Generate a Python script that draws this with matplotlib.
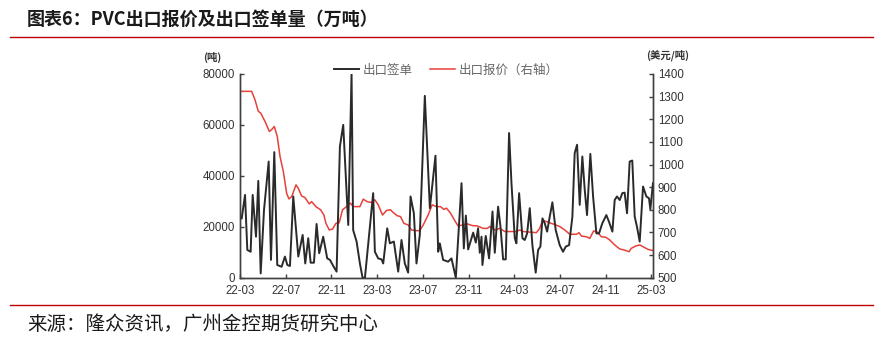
import matplotlib
matplotlib.use("Agg")
import matplotlib.pyplot as plt
from matplotlib.lines import Line2D

plt.rcParams["font.family"] = ["Noto Sans CJK SC", "DejaVu Sans"]

# time axis: months since 2022-03 (weekly data)
sign_t = [
    0.15, 0.44, 0.64, 0.93, 1.11, 1.40, 1.60, 1.81, 2.10, 2.51, 2.71, 3.00,
    3.26, 3.64, 3.93, 4.14, 4.37, 4.66, 5.10, 5.48, 5.71, 5.97, 6.18, 6.47,
    6.70, 6.93, 7.28, 7.63, 7.87, 8.16, 8.45, 8.74, 9.03, 9.47, 9.76, 9.90,
    10.20, 10.49, 10.72, 10.93, 11.65, 11.80, 12.09, 12.38, 12.53, 12.88,
    13.11, 13.46, 13.84, 14.13, 14.42, 14.71, 14.92, 15.21, 15.44, 15.73,
    16.17, 16.61, 17.10, 17.34, 17.48, 17.77, 18.21, 18.50, 18.88, 19.38,
    19.58, 19.76, 19.96, 20.40, 20.63, 20.83, 20.98, 21.13, 21.21, 21.50,
    21.79, 22.09, 22.29, 22.58, 22.79, 23.02, 23.25, 23.54, 23.75, 24.04,
    24.18, 24.42, 24.71, 24.91, 25.12, 25.35, 25.58, 25.87, 26.08, 26.28,
    26.46, 26.66, 26.87, 27.10, 27.33, 27.62, 27.97, 28.26, 28.50, 28.79,
    29.08, 29.28, 29.49, 29.72, 29.95, 30.16, 30.36, 30.65, 30.89, 31.18,
    31.41, 31.70, 32.05, 32.28, 32.58, 32.78, 32.98, 33.22, 33.45, 33.65,
    33.86, 34.09, 34.32, 34.53, 34.73, 34.97, 35.26, 35.55, 35.78, 35.90,
    36.13,
]
sign_vol = [
    23300, 32500, 10900, 10200, 32500, 16100, 38000, 1700, 26600, 45600, 7000, 49300,
    5000, 4300, 8300, 5000, 4600, 31900, 8300, 16800, 5600, 15500, 5900, 5900,
    21100, 9600, 16100, 7600, 7000, 4600, 2400, 51500, 60000, 20700, 80000, 18700,
    14200, 5600, 0, 0, 33200, 10200, 7600, 7200, 5600, 19400,
    13500, 14200, 2400, 14800, 5600, 2000, 31900, 25300, 5600, 16800,
    71400, 27300, 47900, 10200, 13500, 7000, 6300, 7600, 0, 37100,
    11500, 24400, 11100, 17700, 13800, 19400, 9800, 16100, 5000, 16400,
    7600, 26000, 9800, 27900, 20000, 7200, 7200, 56800, 37100, 15500,
    13500, 33200, 15500, 14800, 17400, 27300, 12800, 2000, 10900, 12200,
    23300, 21400, 18100, 24000, 29600, 18700, 12800, 10200, 12200, 12800,
    24000, 48900, 52200, 28600, 47600, 34500, 24600, 48600, 31900, 17400,
    17400, 21400, 24600, 22000, 18100, 30500, 31900, 30500, 33200, 33400,
    25300, 45600, 46000, 24000, 20000, 14200, 35800, 31900, 31200, 26900,
    37100,
]

price_t = [
    0.15, 1.02, 1.31, 1.60, 1.81, 2.19, 2.57, 2.77, 3.00, 3.26, 3.50, 3.79,
    4.08, 4.28, 4.52, 4.90, 5.10, 5.39, 5.68, 6.06, 6.27, 6.64, 7.05, 7.34,
    7.52, 7.81, 8.10, 8.39, 8.68, 8.97, 9.32, 9.67, 9.90, 10.49, 10.78, 11.13,
    11.51, 11.80, 12.09, 12.47, 12.82, 13.17, 13.40, 13.75, 14.04, 14.34,
    14.71, 15.00, 15.44, 15.73, 16.03, 16.46, 16.81, 17.19, 17.54, 17.83,
    18.07, 18.42, 18.79, 19.08, 19.52, 19.87, 20.34, 20.75, 21.27, 21.65,
    21.85, 22.29, 22.73, 23.16, 24.18, 24.48, 24.77, 25.93, 26.22, 26.46,
    26.81, 27.24, 27.62, 27.97, 28.41, 28.85, 29.43, 29.66, 29.87, 30.30,
    30.60, 30.94, 31.32, 31.61, 31.99, 32.34, 32.78, 33.22, 33.65, 34.03,
    34.24, 34.62, 34.97, 35.26, 35.70, 36.13,
]
price = [
    1323, 1323, 1286, 1235, 1227, 1190, 1146, 1154, 1168, 1124, 1036, 969,
    873, 848, 858, 910, 895, 861, 854, 826, 836, 814, 800, 777,
    740, 711, 715, 740, 743, 800, 814, 829, 814, 814, 847, 836,
    832, 844, 822, 777, 797, 800, 788, 774, 770, 740,
    733, 711, 708, 708, 733, 777, 822, 814, 814, 802,
    807, 785, 752, 729, 733, 738, 730, 729, 718, 718,
    726, 711, 718, 704, 704, 711, 704, 699, 718, 752,
    748, 740, 733, 726, 711, 692, 692, 699, 684, 681,
    674, 707, 699, 681, 679, 667, 645, 627, 622, 615,
    630, 640, 645, 637, 625, 620,
]

tick_pos = [0, 4, 8, 12, 16, 20, 24, 28, 32, 36]
tick_labels = ["22-03", "22-07", "22-11", "23-03", "23-07", "23-11",
               "24-03", "24-07", "24-11", "25-03"]

fig = plt.figure(figsize=(8.83, 3.52), dpi=100)
ax = fig.add_axes([0.2718, 0.211, 0.4677, 0.579])
ax2 = ax.twinx()

ax.plot(sign_t, sign_vol, color="#2a2a2a", lw=1.4, zorder=3)
ax2.plot(price_t, price, color="#e8403a", lw=1.1)
ax.set_zorder(ax2.get_zorder() + 1)
ax.patch.set_visible(False)

ax.set_xlim(0, 36.13)
ax.set_ylim(0, 80000)
ax2.set_ylim(500, 1400)
ax.set_xticks(tick_pos)
ax.set_xticklabels(tick_labels)
ax.set_yticks(range(0, 80001, 20000))
ax2.set_yticks(range(500, 1401, 100))

for a in (ax, ax2):
    a.spines["top"].set_visible(False)
    for s in ("left", "right", "bottom"):
        a.spines[s].set_color("#404040")
        a.spines[s].set_linewidth(1.0)
    a.tick_params(direction="in", length=3, width=1, colors="#404040",
                  labelsize=8.3, labelcolor="#333333")
    for lab in a.get_xticklabels() + a.get_yticklabels():
        lab.set_family(["Liberation Sans", "DejaVu Sans"])
ax.tick_params(axis="x", pad=5)

fig.text(212 / 883, 1 - 57 / 352, "(吨)", fontsize=7.5, fontweight="bold",
         ha="center", va="center", color="#333333")
fig.text(668 / 883, 1 - 55 / 352, "(美元/吨)", fontsize=7.5, fontweight="bold",
         ha="center", va="center", color="#333333")

handles = [Line2D([], [], color="#2a2a2a", lw=1.4),
           Line2D([], [], color="#e8403a", lw=1.1)]
leg = ax.legend(handles, ["出口签单", "出口报价（右轴）"], loc="lower center",
                bbox_to_anchor=(0.5, 0.955), ncol=2, frameon=False,
                fontsize=9, handlelength=2.0, columnspacing=1.4,
                handletextpad=0.3, borderpad=0)
for t in leg.get_texts():
    t.set_color("#666666")

fig.text(27 / 883, 1 - 19 / 352, "图表6：PVC出口报价及出口签单量（万吨）",
         fontsize=13, fontweight="bold", ha="left", va="center", color="#1a1a1a")
fig.add_artist(Line2D([10 / 883, 873 / 883], [1 - 37 / 352] * 2,
                      color="#c00000", lw=1.0))
fig.add_artist(Line2D([10 / 883, 873 / 883], [1 - 305 / 352] * 2,
                      color="#c00000", lw=1.0))
fig.text(27 / 883, 1 - 324 / 352, "来源：隆众资讯，广州金控期货研究中心",
         fontsize=14, ha="left", va="center", color="#1a1a1a")

fig.savefig("out.png", dpi=100)
